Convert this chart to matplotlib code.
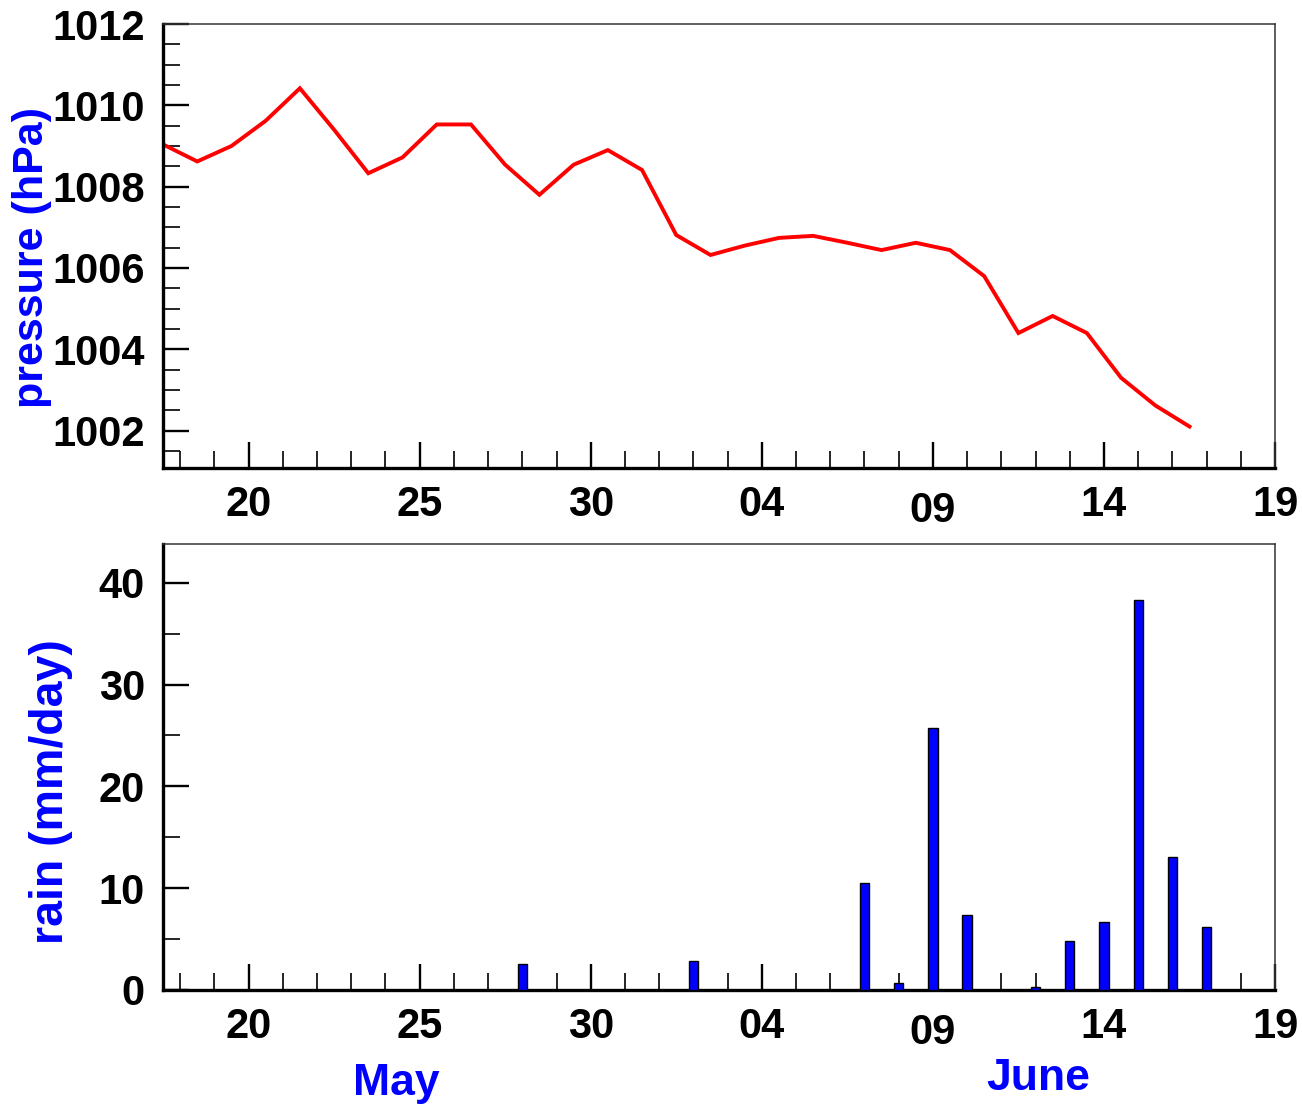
import matplotlib
matplotlib.use("Agg")
import matplotlib.pyplot as plt
from matplotlib.ticker import MultipleLocator, FixedLocator

plt.rcParams["font.family"] = ["Liberation Sans", "DejaVu Sans"]
plt.rcParams["font.weight"] = "bold"

# day numbers counted from 1 May (so 1 June = 32)
p_days = [17.5, 18.5, 19.5, 20.5, 21.5, 22.5, 23.5, 24.5, 25.5, 26.5, 27.5,
          28.5, 29.5, 30.5, 31.5, 32.5, 33.5, 34.5, 35.5, 36.5, 37.5, 38.5,
          39.5, 40.5, 41.5, 42.5, 43.5, 44.5, 45.5, 46.5, 47.5]
pressure = [1009.04, 1008.62, 1009.0, 1009.62, 1010.42, 1009.4, 1008.33,
            1008.72, 1009.53, 1009.53, 1008.54, 1007.8, 1008.54, 1008.9,
            1008.41, 1006.81, 1006.32, 1006.55, 1006.74, 1006.79, 1006.62,
            1006.44, 1006.62, 1006.44, 1005.8, 1004.4, 1004.82, 1004.4,
            1003.3, 1002.62, 1002.1]

rain_days = [28, 33, 38, 39, 40, 41, 43, 44, 45, 46, 47, 48]
rain = [2.6, 2.8, 10.5, 0.7, 25.7, 7.4, 0.3, 4.8, 6.7, 38.3, 13.1, 6.2]

tick_days = [20, 25, 30, 35, 40, 45, 50]
tick_labels = ["20", "25", "30", "04", "09", "14", "19"]

fig = plt.figure(figsize=(13.02, 11.07), dpi=100)
ax1 = fig.add_axes([0.1252, 0.5772, 0.8541, 0.4011])
ax2 = fig.add_axes([0.1252, 0.1057, 0.8541, 0.4029])

ax1.plot(p_days, pressure, color="red", lw=2.8, solid_joinstyle="miter")
ax2.bar(rain_days, rain, width=0.27, color="#0000ff", edgecolor="black",
        linewidth=1.0, zorder=3)

ax1.set_ylim(1001.08, 1012)
ax1.yaxis.set_major_locator(MultipleLocator(2))
ax1.yaxis.set_minor_locator(MultipleLocator(0.5))
ax2.set_ylim(0, 43.8)
ax2.yaxis.set_major_locator(MultipleLocator(10))
ax2.yaxis.set_minor_locator(MultipleLocator(5))

for ax in (ax1, ax2):
    ax.set_xlim(17.5, 50)
    ax.xaxis.set_major_locator(FixedLocator(tick_days))
    ax.set_xticklabels(tick_labels)
    ax.xaxis.set_minor_locator(MultipleLocator(1))
    ax.tick_params(which="both", direction="in", top=False, right=False,
                   labelsize=30, color="black")
    ax.tick_params(which="major", length=19, width=1.7)
    ax.tick_params(which="minor", length=12, width=1.2)
    ax.tick_params(axis="x", which="major", pad=12.5)
    ax.tick_params(axis="y", which="major", pad=13)
    for lab in ax.get_xticklabels() + ax.get_yticklabels():
        lab.set_fontweight("bold")
    ax.spines["left"].set_linewidth(2.4)
    ax.spines["bottom"].set_linewidth(2.4)
    ax.spines["top"].set_linewidth(1.1)
    ax.spines["right"].set_linewidth(1.1)
    ax.spines["top"].set_color("#333333")
    ax.spines["right"].set_color("#333333")
    # the "09" label sits a little lower than the others
    ax.xaxis.get_major_ticks()[4].set_pad(16.5)

ax1.set_ylabel("pressure (hPa)", color="#0000ff", fontsize=31,
               fontweight="bold")
ax1.yaxis.set_label_coords(-0.0995, 0.475)
ax2.set_ylabel("rain (mm/day)", color="#0000ff", fontsize=33.5,
               fontweight="bold")
ax2.yaxis.set_label_coords(-0.081, 0.444)

fig.text(396 / 1302, 1 - 1083 / 1107, "May", color="#0000ff", fontsize=32,
         fontweight="bold", ha="center", va="center")
fig.text(1038 / 1302, 1 - 1078 / 1107, "June", color="#0000ff", fontsize=32,
         fontweight="bold", ha="center", va="center")

fig.savefig("out.png", dpi=100)
